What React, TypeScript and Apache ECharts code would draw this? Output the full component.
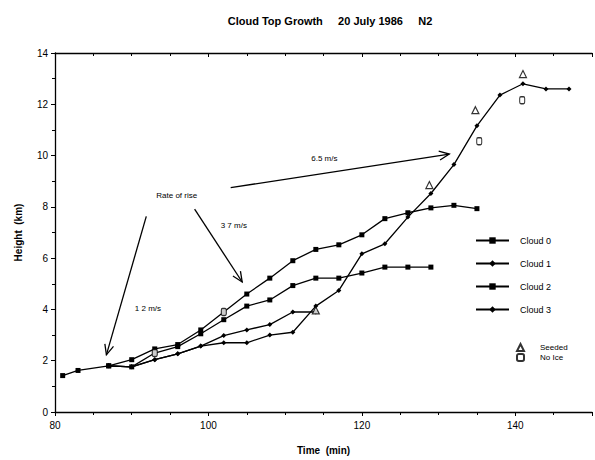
import React, { useEffect, useRef } from "react";
import * as echarts from "echarts";

// Time (min) / Height (km)
const cloud0: [number, number][] = [
  [81, 1.42], [83, 1.62], [87, 1.8], [90, 2.04], [93, 2.46], [96, 2.63], [99, 3.2],
  [102, 3.9], [105, 4.6], [108, 5.22], [111, 5.9], [114, 6.34], [117, 6.52],
  [120, 6.91], [123, 7.54], [126, 7.77], [129, 7.96], [132, 8.06], [135, 7.93],
];
const cloud1: [number, number][] = [
  [87, 1.8], [90, 1.76], [93, 2.04], [96, 2.27], [99, 2.57], [102, 2.98],
  [105, 3.2], [108, 3.41], [111, 3.9], [114, 3.9],
];
const cloud2: [number, number][] = [
  [87, 1.8], [90, 1.76], [93, 2.3], [96, 2.55], [99, 3.05], [102, 3.6],
  [105, 4.13], [108, 4.37], [111, 4.93], [114, 5.22], [117, 5.22], [120, 5.42],
  [123, 5.65], [126, 5.65], [129, 5.65],
];
const cloud3: [number, number][] = [
  [87, 1.8], [90, 1.76], [93, 2.04], [96, 2.27], [99, 2.57], [102, 2.7],
  [105, 2.7], [108, 3.0], [111, 3.11], [114, 4.13], [117, 4.74], [120, 6.17],
  [123, 6.56], [126, 7.6], [129, 8.52], [132, 9.65], [135, 11.16], [138, 12.36],
  [141, 12.8], [144, 12.6], [147, 12.6],
];
const seeded: [number, number][] = [
  [114, 3.96], [128.8, 8.85], [134.8, 11.77], [141, 13.18],
];
const noIce: [number, number][] = [
  [93, 2.3], [102, 3.9], [135.3, 10.56], [140.9, 12.16],
];
// arrows: [fromT, fromH, toT, toH]
const arrows: [number, number, number, number][] = [
  [91.9, 7.63, 86.7, 2.23],
  [98.2, 7.91, 104.4, 5.07],
  [102.9, 8.75, 131.4, 10.06],
];
// notes: [t, h, text]
const notes: [number, number, string][] = [
  [93.2, 8.45, "Rate of rise"],
  [101.6, 7.27, "3 7 m/s"],
  [90.4, 4.03, "1 2 m/s"],
  [113.4, 9.89, "6.5 m/s"],
];
const cloudNames = ["Cloud 0", "Cloud 1", "Cloud 2", "Cloud 3"];

const FONT = "Liberation Sans, Arial, sans-serif";

export default function App() {
  const ref = useRef<HTMLDivElement>(null);
  useEffect(() => {
    if (!ref.current) return;
    const chart = echarts.init(ref.current, undefined, { renderer: "svg" });
    const lineSeries = (name: string, data: [number, number][], symbol: string, size: number) => ({
      name,
      type: "line",
      data,
      symbol,
      symbolSize: size,
      showAllSymbol: true,
      lineStyle: { color: "#000", width: 1.3 },
      itemStyle: { color: "#000", borderColor: "#000", borderWidth: 0 },
      z: 3,
    });
    chart.setOption({
      animation: false,
      backgroundColor: "#fff",
      textStyle: { fontFamily: FONT, color: "#000" },
      title: {
        text: "Cloud Top Growth     20 July 1986     N2",
        left: 325,
        textAlign: "center",
        top: 10,
        textStyle: { fontFamily: FONT, fontSize: 11, fontWeight: "bold", color: "#000" },
      },
      grid: { left: 55, right: 0, top: 53, bottom: 47 },
      legend: [
        {
          data: cloudNames,
          orient: "vertical",
          left: 470,
          top: 231,
          itemWidth: 33,
          itemHeight: 8,
          itemGap: 14,
          textStyle: { fontFamily: FONT, fontSize: 9, color: "#000", padding: [0, 0, 0, 6] },
          selectedMode: false,
        },
        {
          data: ["Seeded", "No Ice"],
          orient: "vertical",
          left: 511,
          top: 338,
          itemWidth: 7,
          itemHeight: 7,
          itemGap: 1,
          textStyle: { fontFamily: FONT, fontSize: 8, color: "#000", padding: [0, 0, 0, 11] },
          selectedMode: false,
        },
      ],
      xAxis: [
        {
          type: "value",
          min: 80,
          max: 150,
          interval: 20,
          name: "Time  (min)",
          nameLocation: "middle",
          nameGap: 33,
          nameTextStyle: { fontFamily: FONT, fontSize: 10, fontWeight: "bold", color: "#000" },
          axisLine: { lineStyle: { color: "#000", width: 1.3 } },
          axisTick: { show: true, length: 4, lineStyle: { color: "#000" } },
          minorTick: { show: true, splitNumber: 4, length: 3, lineStyle: { color: "#000" } },
          axisLabel: {
            fontFamily: FONT, fontSize: 10, color: "#000", margin: 8,
            formatter: (v: number) => (v === 150 ? "" : String(v)),
          },
          splitLine: { show: false },
        },
        {
          type: "value",
          position: "top",
          min: 80,
          max: 150,
          interval: 20,
          axisLine: { show: true, lineStyle: { color: "#000", width: 1.3 } },
          axisTick: { show: true, inside: true, length: 4, lineStyle: { color: "#000" } },
          minorTick: { show: true, splitNumber: 4, length: 3, lineStyle: { color: "#000" } },
          axisLabel: { show: false },
          splitLine: { show: false },
        },
      ],
      yAxis: {
        type: "value",
        min: 0,
        max: 14,
        interval: 2,
        name: "Height  (km)",
        nameLocation: "middle",
        nameGap: 32,
        nameTextStyle: { fontFamily: FONT, fontSize: 10, fontWeight: "bold", color: "#000" },
        axisLine: { show: true, lineStyle: { color: "#000", width: 1.3 } },
        axisTick: { show: true, length: 4, lineStyle: { color: "#000" } },
        minorTick: { show: true, splitNumber: 2, length: 3, lineStyle: { color: "#000" } },
        axisLabel: { fontFamily: FONT, fontSize: 10, color: "#000", margin: 7 },
        splitLine: { show: false },
      },
      series: [
        lineSeries("Cloud 0", cloud0, "rect", 5),
        lineSeries("Cloud 1", cloud1, "diamond", 5),
        lineSeries("Cloud 2", cloud2, "rect", 5),
        lineSeries("Cloud 3", cloud3, "diamond", 5),
        {
          name: "Seeded",
          type: "scatter",
          data: seeded,
          symbol: "triangle",
          symbolSize: 7,
          itemStyle: { color: "#fff", borderColor: "#000", borderWidth: 1.2 },
          z: 4,
        },
        {
          name: "No Ice",
          type: "scatter",
          data: noIce,
          symbol: "roundRect",
          symbolSize: [5, 7],
          itemStyle: { color: "#fff", borderColor: "#000", borderWidth: 1.2 },
          z: 4,
        },
        {
          type: "custom",
          name: "arrows",
          data: arrows,
          encode: { x: [0, 2], y: [1, 3] },
          silent: true,
          renderItem: (params: any, api: any) => {
            const p1 = api.coord([api.value(0), api.value(1)]);
            const p2 = api.coord([api.value(2), api.value(3)]);
            const ang = Math.atan2(p2[1] - p1[1], p2[0] - p1[0]);
            const L = 11, a = 0.42;
            const h1 = [p2[0] - L * Math.cos(ang - a), p2[1] - L * Math.sin(ang - a)];
            const h2 = [p2[0] - L * Math.cos(ang + a), p2[1] - L * Math.sin(ang + a)];
            return {
              type: "group",
              children: [
                { type: "line", shape: { x1: p1[0], y1: p1[1], x2: p2[0], y2: p2[1] }, style: { stroke: "#000", lineWidth: 1.3 } },
                { type: "polyline", shape: { points: [h1, p2, h2] }, style: { stroke: "#000", fill: null, lineWidth: 1.3 } },
              ],
            };
          },
          z: 2,
        },
        {
          type: "custom",
          name: "notes",
          data: notes.map((n) => [n[0], n[1]]),
          encode: { x: 0, y: 1 },
          silent: true,
          renderItem: (params: any, api: any) => {
            const p = api.coord([api.value(0), api.value(1)]);
            return {
              type: "text",
              x: p[0],
              y: p[1],
              style: {
                text: notes[params.dataIndex][2],
                fontFamily: FONT,
                fontSize: 8,
                fill: "#000",
                verticalAlign: "middle",
                align: "left",
              },
            };
          },
          z: 2,
        },
      ],
    });
    return () => chart.dispose();
  }, []);
  return (
    <div
      ref={ref}
      style={{ position: "fixed", left: 0, top: 0, width: 595, height: 460, background: "#fff" }}
    />
  );
}
